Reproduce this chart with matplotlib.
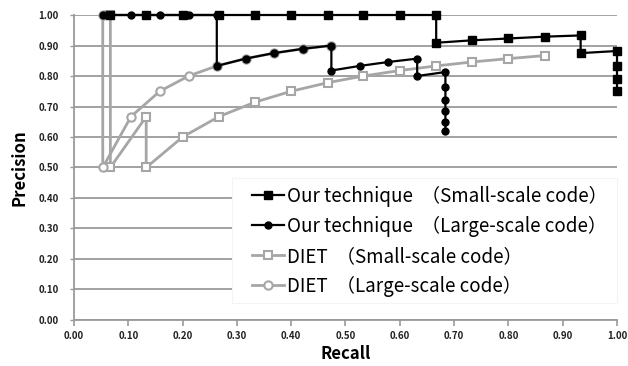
import matplotlib
matplotlib.use("Agg")
import matplotlib.pyplot as plt
from matplotlib.patches import Rectangle

plt.rcParams['font.family'] = ['Noto Sans CJK JP', 'DejaVu Sans']

# Our technique (Small-scale code)
our_small_recall = [0.067, 0.133, 0.2, 0.267, 0.333, 0.4, 0.467, 0.533, 0.6, 0.667,
                    0.667, 0.733, 0.8, 0.867, 0.933, 0.933, 1.0, 1.0, 1.0, 1.0]
our_small_prec = [1.0, 1.0, 1.0, 1.0, 1.0, 1.0, 1.0, 1.0, 1.0, 1.0,
                  0.909, 0.917, 0.923, 0.929, 0.933, 0.875, 0.882, 0.833, 0.789, 0.75]

# Our technique (Large-scale code)
our_large_recall = [0.053, 0.105, 0.158, 0.211, 0.263, 0.263, 0.316, 0.368, 0.421, 0.474,
                    0.474, 0.526, 0.579, 0.632, 0.632, 0.684, 0.684, 0.684, 0.684, 0.684, 0.684]
our_large_prec = [1.0, 1.0, 1.0, 1.0, 1.0, 0.833, 0.857, 0.875, 0.889, 0.9,
                  0.818, 0.833, 0.846, 0.857, 0.8, 0.813, 0.765, 0.722, 0.684, 0.65, 0.619]

# DIET (Small-scale code)
diet_small_recall = [0.067, 0.067, 0.133, 0.133, 0.2, 0.267, 0.333, 0.4, 0.467, 0.533,
                     0.6, 0.667, 0.733, 0.8, 0.867]
diet_small_prec = [1.0, 0.5, 0.667, 0.5, 0.6, 0.667, 0.714, 0.75, 0.778, 0.8,
                   0.818, 0.833, 0.846, 0.857, 0.867]

# DIET (Large-scale code)
diet_large_recall = [0.053, 0.053, 0.105, 0.158, 0.211, 0.263, 0.316, 0.368, 0.421, 0.474]
diet_large_prec = [1.0, 0.5, 0.667, 0.75, 0.8, 0.833, 0.857, 0.875, 0.889, 0.9]

labels = ["Our technique  \uff08Small-scale code\uff09",
          "Our technique  \uff08Large-scale code\uff09",
          "DIET  \uff08Small-scale code\uff09",
          "DIET  \uff08Large-scale code\uff09"]

x_ticks = [0.0, 0.1, 0.2, 0.3, 0.4, 0.5, 0.6, 0.7, 0.8, 0.9, 1.0]
y_ticks = [0.0, 0.1, 0.2, 0.3, 0.4, 0.5, 0.6, 0.7, 0.8, 0.9, 1.0]

fig = plt.figure(figsize=(6.28, 3.66), dpi=100)
ax = fig.add_axes([0.1178, 0.1257, 0.8647, 0.8333])

gray = '#A6A6A6'
grid_c = '#9A9A9A'

l3, = ax.plot(diet_small_recall, diet_small_prec, color=gray, lw=2.0, marker='s',
              ms=6, mfc='white', mec=gray, mew=1.5, zorder=3, clip_on=False)
l4, = ax.plot(diet_large_recall, diet_large_prec, color=gray, lw=2.0, marker='o',
              ms=6, mfc='white', mec=gray, mew=1.5, zorder=3, clip_on=False)
l1, = ax.plot(our_small_recall, our_small_prec, color='black', lw=1.6, marker='s',
              ms=6, mfc='black', mec='black', zorder=4, clip_on=False)
l2, = ax.plot(our_large_recall, our_large_prec, color='black', lw=1.6, marker='o',
              ms=5, mfc='black', mec='black', zorder=5, clip_on=False)

ax.set_xlim(0, 1.0)
ax.set_ylim(0, 1.0)
ax.set_xticks(x_ticks)
ax.set_yticks(y_ticks)
ax.set_xticklabels([f"{v:.2f}" for v in x_ticks], fontsize=7, fontweight='bold', color='#222222')
ax.set_yticklabels([f"{v:.2f}" for v in y_ticks], fontsize=7, fontweight='bold', color='#222222')
ax.tick_params(axis='x', direction='out', length=4, color=grid_c, width=1.2, pad=4)
ax.tick_params(axis='y', direction='out', length=3, color=grid_c, width=1.0, pad=8)

ax.yaxis.grid(True, color=grid_c, lw=1.3, zorder=0)
ax.set_axisbelow(True)
for s in ['top', 'right']:
    ax.spines[s].set_visible(False)
for s in ['left', 'bottom']:
    ax.spines[s].set_color(grid_c)
    ax.spines[s].set_linewidth(1.3)

ax.set_xlabel("Recall", fontsize=12, fontweight='bold', labelpad=3)
ax.set_ylabel("Precision", fontsize=12, fontweight='bold', labelpad=7)

# legend background box
ax.add_patch(Rectangle((0.291, 0.056), 0.709, 0.41, transform=ax.transAxes,
                       facecolor='white', edgecolor='#F4F4F4', lw=0.8, zorder=9,
                       clip_on=False))

leg = ax.legend([l1, l2, l3, l4], labels, loc='center left', bbox_to_anchor=(0.328, 0.258),
                fontsize=13.5, frameon=False, handlelength=1.7,
                handletextpad=0.15, labelspacing=0.48, borderpad=0.0, borderaxespad=0.0)
leg.set_zorder(10)

fig.savefig("out.png", dpi=100)
